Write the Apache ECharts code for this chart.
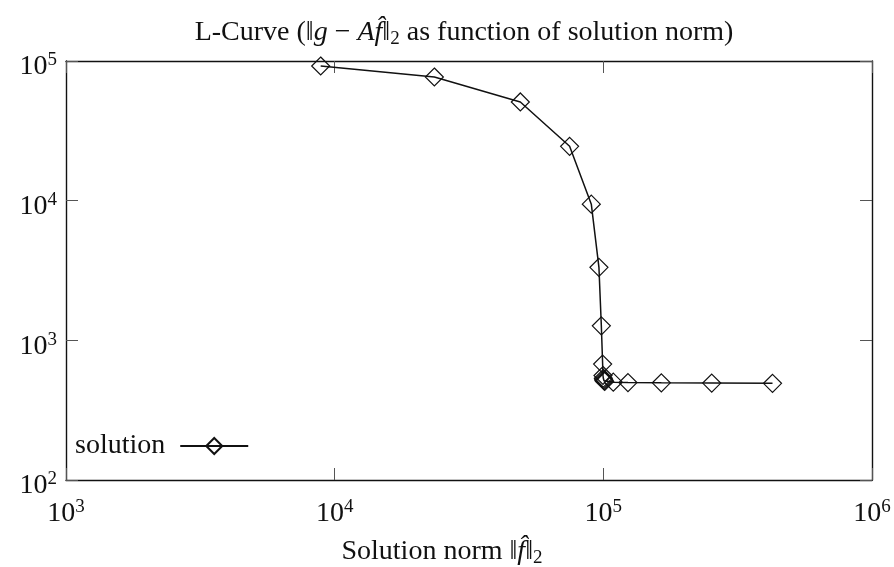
<!DOCTYPE html>
<html>
<head>
<meta charset="utf-8">
<script src="https://cdn.jsdelivr.net/npm/echarts@6/dist/echarts.min.js"></script>
<style>
  html, body { margin: 0; padding: 0; background: #fff; }
  #chart { width: 894px; height: 567px; }
</style>
</head>
<body>
<div id="chart"></div>
<script>
// solution norm ||f||_2 (x) and residual ||g - Af||_2 (y)
const solutionNorm = [8870, 23500, 49100, 74900, 90200, 96300, 98300, 99400, 99700, 100000,
  100300, 100600, 101200, 108900, 123500, 164400, 253200, 426300];
const residualNorm = [92100, 76800, 50900, 24500, 9440, 3330, 1270, 676, 560, 535,
  522, 514, 508, 502, 498, 496, 494, 492];
const seriesName = 'solution';

const font = '"Liberation Serif", "DejaVu Serif", serif';
const ink = '#111';

const points = solutionNorm.map((x, i) => [x, residualNorm[i]]);

function powLabel(value) {
  return '{b|10}{s|' + Math.round(Math.log10(value)) + '}';
}

const labelRich = {
  b: { fontFamily: font, fontSize: 28, color: ink, lineHeight: 32 },
  s: { fontFamily: font, fontSize: 19, color: ink, lineHeight: 19, verticalAlign: 'top' }
};

// plain / italic / subscript pieces for the math-ish texts
const mathRich = {
  n: { fontFamily: font, fontSize: 28, fontWeight: 'normal', color: ink, lineHeight: 32 },
  i: { fontFamily: font, fontSize: 28, fontWeight: 'normal', fontStyle: 'italic', color: ink, lineHeight: 32 },
  u: { fontFamily: font, fontSize: 19, fontWeight: 'normal', color: ink, lineHeight: 19, verticalAlign: 'bottom' }
};

function logAxis(extra) {
  return Object.assign({
    type: 'log',
    logBase: 10,
    splitLine: { show: false },
    minorTick: { show: false },
    axisLine: { show: true, onZero: false, lineStyle: { color: ink, width: 1.4 } },
    axisTick: { show: true, inside: true, length: 12, lineStyle: { color: '#555', width: 1 } }
  }, extra);
}

const chart = echarts.init(document.getElementById('chart'));

chart.setOption({
  backgroundColor: '#fff',
  animation: false,
  title: {
    text: '{n|L-Curve (‖}{i|g}{n| − }{i|A}{i|f\u0302}{n|‖}{u|2}{n| as function of solution norm)}',
    left: 459,
    textAlign: 'center',
    top: 12,
    textStyle: { fontWeight: 'normal', rich: mathRich }
  },
  legend: {
    data: [seriesName],
    left: 70,
    top: 427,
    align: 'right',
    itemWidth: 68,
    itemHeight: 20,
    itemGap: 0,
    textStyle: { fontFamily: font, fontSize: 28, color: ink, padding: [0, 10, 0, 0] }
  },
  grid: { left: 66, right: 22, top: 61, bottom: 87, containLabel: false, outerBoundsMode: 'none' },
  xAxis: [
    logAxis({
      position: 'bottom',
      min: 1e3,
      max: 1e6,
      name: '{n|Solution norm ‖}{i|f\u0302}{n|‖}{u|2}',
      nameLocation: 'middle',
      nameGap: 56,
      nameTextStyle: { padding: [0, 54, 0, 0], rich: mathRich },
      axisLabel: { margin: 18, formatter: powLabel, rich: labelRich }
    }),
    logAxis({
      position: 'top',
      min: 1e3,
      max: 1e6,
      axisLabel: { show: false }
    })
  ],
  yAxis: [
    logAxis({
      position: 'left',
      min: 1e2,
      max: 1e5,
      axisLabel: { margin: 9, padding: [12, 0, 0, 0], formatter: powLabel, rich: labelRich }
    }),
    logAxis({
      position: 'right',
      min: 1e2,
      max: 1e5,
      axisLabel: { show: false }
    })
  ],
  series: [
    {
      name: seriesName,
      type: 'line',
      xAxisIndex: 0,
      yAxisIndex: 0,
      data: points,
      symbol: 'diamond',
      symbolSize: [18, 18],
      showAllSymbol: true,
      lineStyle: { color: ink, width: 1.5 },
      itemStyle: { color: 'transparent', borderColor: ink, borderWidth: 1.2 }
    }
  ]
});
</script>
</body>
</html>
